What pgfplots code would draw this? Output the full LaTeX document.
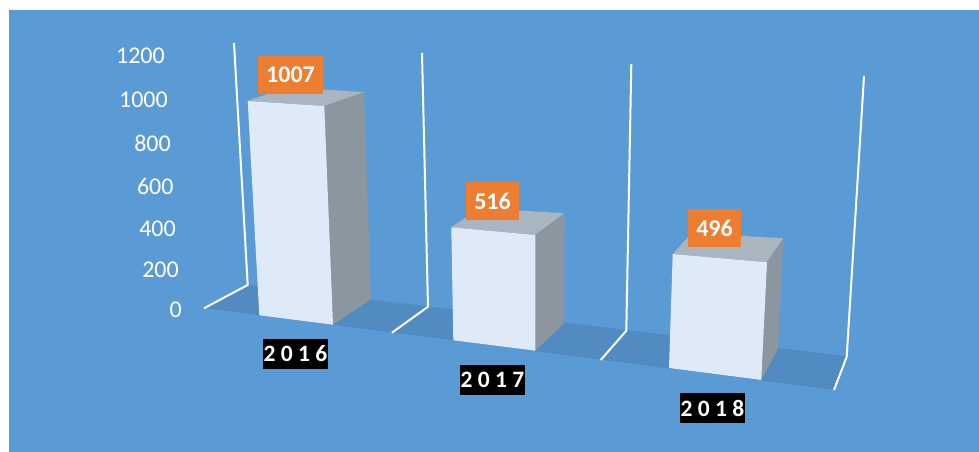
\documentclass[border=0pt]{standalone}
\usepackage{pgfplots}
\usepackage{fontspec}
\setmainfont{Carlito}
\pgfplotsset{compat=1.18}
\definecolor{bg}{HTML}{5B9BD5}
\definecolor{floorc}{HTML}{528BC2}
\definecolor{frontc}{HTML}{DEEAF8}
\definecolor{topc}{HTML}{A9B5BF}
\definecolor{sidec}{HTML}{8C969F}
\definecolor{orangec}{HTML}{ED7D31}
\tikzset{
    ticklab/.style={font=\fontsize{24}{25}\selectfont, text=white, anchor=east, inner sep=0pt},
    vallab/.style={font=\fontsize{24}{25}\selectfont\bfseries, text=white, fill=orangec, inner sep=0pt, minimum height=38pt},
    yrlab/.style={font=\fontsize{23.5}{25}\selectfont\bfseries, text=white, fill=black, inner sep=0pt, minimum width=65pt, minimum height=30pt},
}
\begin{document}
\begin{tikzpicture}
\begin{axis}[
    scale only axis, width=979pt, height=452pt,
    xmin=0, xmax=979, ymin=0, ymax=452,
    y dir=reverse,
    hide axis,
]
% page and plot area
\addplot[fill=white, draw=none] coordinates {(0,0) (979,0) (979,452) (0,452)} -- cycle;
\addplot[fill=bg, draw=none] coordinates {(9,10) (979,10) (979,452) (9,452)} -- cycle;
% floor
\addplot[fill=floorc, draw=none] coordinates {(204,308) (248,285) (846,356) (834,390)} -- cycle;
% gridlines on the walls
\addplot[white, line width=2pt] coordinates {(234,43) (247.7,285) (204,308.3)};
\addplot[white, line width=2pt] coordinates {(422,53) (428,306.7) (392,332.7)};
\addplot[white, line width=2pt] coordinates {(631.3,64) (626.3,330.7) (600.7,360)};
\addplot[white, line width=2pt] coordinates {(864,76) (846.7,356.7) (834,390)};
% 2016
\addplot[fill=topc, draw=none] coordinates {(247.7,101) (324.3,106) (364,92.3) (287,87)} -- cycle;
\addplot[fill=sidec, draw=none] coordinates {(324.3,106) (364,92.3) (371,299.3) (333,324.7)} -- cycle;
\addplot[fill=frontc, draw=none] coordinates {(247.7,101) (324.3,106) (333,324.7) (259.3,315.3)} -- cycle;
% 2017
\addplot[fill=topc, draw=none] coordinates {(451.3,227.3) (535.3,235) (564.3,213.3) (480,208)} -- cycle;
\addplot[fill=sidec, draw=none] coordinates {(535.3,235) (564.3,213.3) (564,323.3) (535.3,350.7)} -- cycle;
\addplot[fill=frontc, draw=none] coordinates {(451.3,227.3) (535.3,235) (535.3,350.7) (453.3,340.3)} -- cycle;
% 2018
\addplot[fill=topc, draw=none] coordinates {(672.7,254) (767,262.3) (783.3,238.3) (691.7,233)} -- cycle;
\addplot[fill=sidec, draw=none] coordinates {(767,262.3) (783.3,238.3) (778,348.7) (761.3,380)} -- cycle;
\addplot[fill=frontc, draw=none] coordinates {(672.7,254) (767,262.3) (761.3,380) (669,368)} -- cycle;
% value axis labels
\node[ticklab] at (axis cs:165,55.7) {1200};
\node[ticklab] at (axis cs:168,100) {1000};
\node[ticklab] at (axis cs:171,143.7) {800};
\node[ticklab] at (axis cs:173.7,186.3) {600};
\node[ticklab] at (axis cs:176,228.3) {400};
\node[ticklab] at (axis cs:179,269.3) {200};
\node[ticklab] at (axis cs:182,309.3) {0};
% data labels
\node[vallab, minimum width=65pt] at (axis cs:290.5,75) {1007};
\node[vallab, minimum width=53pt] at (axis cs:492.5,201) {516};
\node[vallab, minimum width=53pt] at (axis cs:714.5,228) {496};
% categories
\node[yrlab] at (axis cs:295.5,354) {2 0 1 6};
\node[yrlab] at (axis cs:492.5,380) {2 0 1 7};
\node[yrlab] at (axis cs:712.5,408) {2 0 1 8};
\end{axis}
\end{tikzpicture}
\end{document}
